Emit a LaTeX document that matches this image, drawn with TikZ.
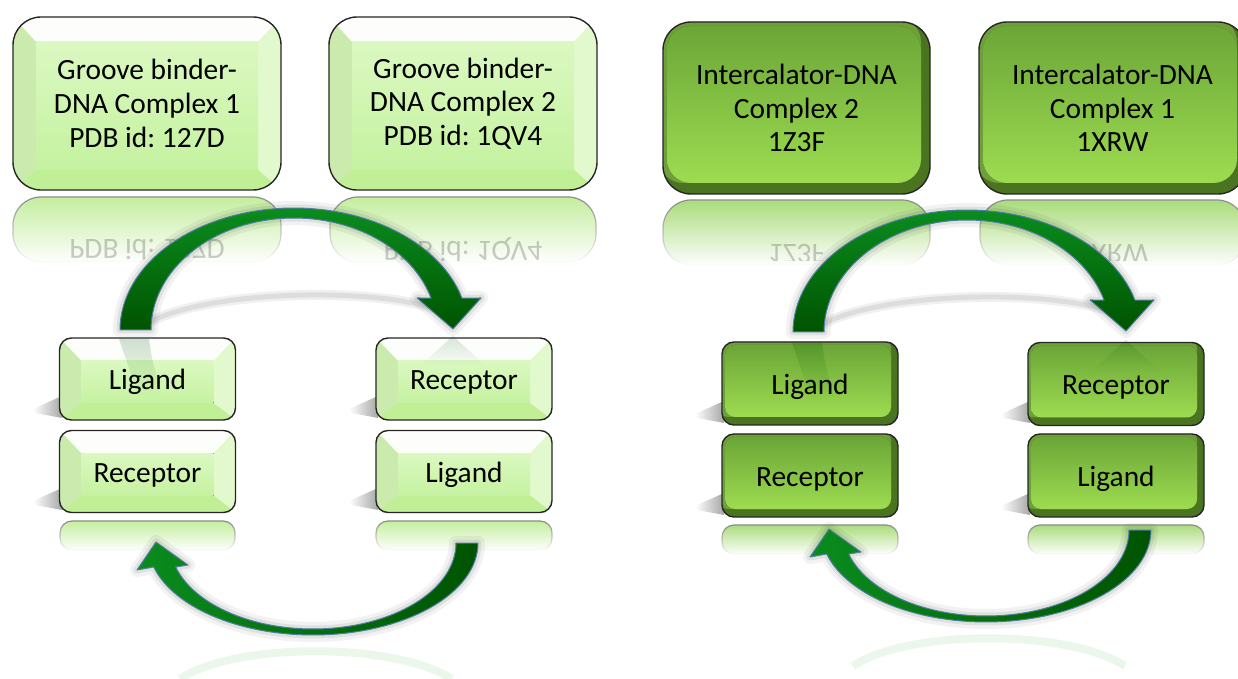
\documentclass[tikz,border=0pt]{standalone}
\usepackage{fontspec}
\setmainfont{Carlito}
\usetikzlibrary{fadings,calc}
\frenchspacing

\definecolor{lgTop}{HTML}{F0FDE4}
\definecolor{lgBot}{HTML}{C2F09A}
\definecolor{lgInTop}{HTML}{DBF8C1}
\definecolor{lgInBot}{HTML}{C5F2A0}
\definecolor{lgLeft}{HTML}{CBEBAE}
\definecolor{lgRight}{HTML}{E2F9CE}
\definecolor{lgBottom}{HTML}{C0EF96}
\definecolor{dgRim}{HTML}{4A7420}
\definecolor{dgRimL}{HTML}{6F9F3B}
\definecolor{dgTop}{HTML}{6BA637}
\definecolor{dgBot}{HTML}{9DDC51}
\definecolor{arTop}{HTML}{0A8C1E}
\definecolor{arBot}{HTML}{005300}
\definecolor{arEdge}{HTML}{4F7FA0}
\definecolor{reflL}{HTML}{C4EE9E}
\definecolor{reflD}{HTML}{A9DC7A}

\newcommand\lightbevel[3]{%
  \path (path picture bounding box.north west) coordinate (pNW)
        (path picture bounding box.south east) coordinate (pSE);
  \path (pNW |- pSE) coordinate (pSW) (pSE |- pNW) coordinate (pNE);
  \path (pNW) ++(#1,-#2) coordinate (iNW);
  \path (pSE) ++(-#1,#3) coordinate (iSE);
  \path (iNW |- iSE) coordinate (iSW) (iSE |- iNW) coordinate (iNE);
  \fill[sharp corners, white, opacity=0.9] (pNW) -- (pNE) -- (iNE) -- (iNW) -- cycle;
  \fill[sharp corners, lgLeft] (pNW) -- (iNW) -- (iSW) -- (pSW) -- cycle;
  \fill[sharp corners, lgRight] (pNE) -- (iNE) -- (iSE) -- (pSE) -- cycle;
  \fill[sharp corners, lgBottom] (pSW) -- (iSW) -- (iSE) -- (pSE) -- cycle;
  \fill[sharp corners, top color=lgInTop, bottom color=lgInBot] (iNW) rectangle (iSE);
}
\newcommand\darkbevel[5]{%
  \path (path picture bounding box.north west) coordinate (pNW)
        (path picture bounding box.south east) coordinate (pSE);
  \fill[rounded corners=#5, dgRimL] ($(pNW)+(-2pt,2pt)$) rectangle ($(pSE)+(-#3,#4)$);
  \fill[rounded corners=#5, top color=dgTop, bottom color=dgBot]
      ($(pNW)+(#1,-#2)$) rectangle ($(pSE)+(-#3,#4)$);
}
\newcommand\reflbox[6]{%
  \path[draw=black!45, line width=0.6pt, fill=#6, rounded corners=#5, path fading=south]
     (#1,#4) rectangle (#2,#3);
}
\newcommand\smear[2]{%
  \fill[black, opacity=0.35, path fading=west]
     (#1+2,#2-24) -- (#1-27,#2-11) -- (#1-25,#2-7) -- (#1+2,#2-2) -- cycle;
}
\newcommand\drawarrow[2]{%
  \path[draw=black, line width=7pt, opacity=0.05, line join=round] #1;
  \path[draw=black, line width=3.5pt, opacity=0.07, line join=round] #1;
  \path[#2, draw=arEdge, line width=0.5pt, line join=round] #1;
}

\def\arrowTL{plot[domain=180:15.2,samples=60] ({294+174*cos(\x)},{330-122*sin(\x)})
  -- (481,298) -- (453,329) -- (417,298)
  -- plot[domain=16.6:180,samples=60] ({294+143*cos(\x)},{330-112*sin(\x)}) -- cycle}
\def\arrowBL{plot[domain=0:164.9,samples=60] ({313+165*cos(\x)},{543+92*sin(\x)})
  -- (137,570) -- (156,542) -- (188,565)
  -- plot[domain=163.8:0,samples=60] ({313+143*cos(\x)},{543+86*sin(\x)}) -- cycle}

\tikzset{
  every node/.style={font=\fontsize{14.7pt}{16.8pt}\selectfont, align=center, text=black},
  boxbase/.style={draw=black!85, line width=0.7pt, inner sep=0pt},
  lightbig/.style={boxbase, rounded corners=14pt, minimum width=134pt, minimum height=86.5pt,
     top color=lgTop, bottom color=lgBot, path picture={\lightbevel{11.5pt}{12.5pt}{10pt}}},
  lightsmall/.style={boxbase, rounded corners=6pt, minimum width=88pt, minimum height=41pt,
     text height=13.6pt, text depth=3pt,
     top color=lgTop, bottom color=lgBot, path picture={\lightbevel{11pt}{11.5pt}{8.5pt}}},
  darkbig/.style={boxbase, rounded corners=14pt, minimum width=133.5pt, minimum height=86pt,
     fill=dgRim, path picture={\darkbevel{2pt}{2pt}{4.5pt}{5.5pt}{12pt}}},
  darksmall/.style={boxbase, rounded corners=6pt, minimum width=88pt, minimum height=41.5pt,
     text height=13.6pt, text depth=3pt,
     fill=dgRim, path picture={\darkbevel{1.5pt}{1.5pt}{3.5pt}{4pt}{5pt}}},
  mirtext/.style={text=black, text opacity=0.2},
}

\begin{document}
\begin{tikzpicture}[x=0.5pt,y=-0.5pt]
\useasboundingbox (0,0) rectangle (1238,679);
\fill[white] (0,0) rectangle (1238,679);

% reflections of the big boxes
\reflbox{13}{281}{197}{262}{14pt}{reflL}
\reflbox{330}{596}{197}{262}{14pt}{reflL}
\reflbox{663}{930}{200}{265}{14pt}{reflD}
\reflbox{980}{1245}{200}{265}{14pt}{reflD}
\begin{scope}
  \clip (0,197) rectangle (1238,261);
  \node[mirtext] (m1) at (147,250) {\scalebox{1}[-1]{PDB id: 127D}};
  \node[mirtext] (m2) at (463,250) {\scalebox{1}[-1]{PDB id: 1QV4}};
  \node[mirtext] (m3) at (796.5,254) {\scalebox{1}[-1]{1Z3F}};
  \node[mirtext] (m4) at (1112.5,254) {\scalebox{1}[-1]{1XRW}};
\end{scope}

% cast shadows of the small boxes
\smear{60}{420}\smear{60}{512}\smear{376}{420}\smear{376}{512}
\smear{722}{425}\smear{722}{517}\smear{1028}{425}\smear{1028}{517}

% cast shadows of the upper arrows
\draw[black, opacity=0.06, line width=5pt, line cap=round] (150,322) .. controls (210,290) and (380,286) .. (445,312);
\draw[black, opacity=0.08, line width=2.5pt, line cap=round] (150,322) .. controls (210,290) and (380,286) .. (445,312);
\begin{scope}[shift={(673,2)}]
\draw[black, opacity=0.06, line width=5pt, line cap=round] (150,322) .. controls (210,290) and (380,286) .. (445,312);
\draw[black, opacity=0.08, line width=2.5pt, line cap=round] (150,322) .. controls (210,290) and (380,286) .. (445,312);
\end{scope}

% big boxes
\node[lightbig] (g1) at (147,103.5) {Groove binder-\\DNA Complex 1\\PDB id: 127D};
\node[lightbig] (g2) at (463,103.5) {Groove binder-\\DNA Complex 2\\PDB id: 1QV4};
\node[darkbig] (i2) at (796.5,108) {Intercalator-DNA\\Complex 2\\1Z3F};
\node[darkbig] (i1) at (1112.5,108) {Intercalator-DNA\\Complex 1\\1XRW};

% small boxes
\node[lightsmall] (la) at (147.5,379) {Ligand};
\node[lightsmall] (lb) at (147.5,471.5) {Receptor};
\node[lightsmall] (lc) at (464,379) {Receptor};
\node[lightsmall] (ld) at (464,471.5) {Ligand};
\node[darksmall] (da) at (810,383.5) {Ligand};
\node[darksmall] (db) at (810,475.5) {Receptor};
\node[darksmall] (dc) at (1116,384) {Receptor};
\node[darksmall] (dd) at (1116,475.5) {Ligand};

% reflections under the lower small boxes
\reflbox{60}{235}{521}{550}{6pt}{reflL}
\reflbox{376}{552}{521}{550}{6pt}{reflL}
\reflbox{722}{898}{525}{554}{6pt}{reflD}
\reflbox{1028}{1204}{525}{554}{6pt}{reflD}

% faint reflections of the upper arrows on the small boxes
\fill[green!35!black, opacity=0.18, path fading=south] (119,339) -- (149,339) .. controls (152,360) .. (162,395) -- (138,395) .. controls (128,365) .. (119,339) -- cycle;
\fill[green!35!black, opacity=0.15, path fading=south] (453,336) -- (486,366) -- (420,366) -- cycle;
\begin{scope}[shift={(673,4)}]
\fill[green!35!black, opacity=0.18, path fading=south] (119,339) -- (149,339) .. controls (152,360) .. (162,395) -- (138,395) .. controls (128,365) .. (119,339) -- cycle;
\fill[green!35!black, opacity=0.15, path fading=south] (453,336) -- (486,366) -- (420,366) -- cycle;
\end{scope}

% arrows
\drawarrow{\arrowTL}{top color=arTop, bottom color=arBot}
\drawarrow{\arrowBL}{left color=arTop, right color=arBot}
\begin{scope}[shift={(673,2)}]
\drawarrow{\arrowTL}{top color=arTop, bottom color=arBot}
\end{scope}
\begin{scope}[shift={(673,-13)}]
\drawarrow{\arrowBL}{left color=arTop, right color=arBot}
\end{scope}

% reflections of the lower arrows
\draw[green!40!gray, opacity=0.1, line width=4pt] (180,679) .. controls (235,642) and (395,642) .. (452,679);
\begin{scope}[shift={(673,-13)}]
\draw[green!40!gray, opacity=0.1, line width=4pt] (180,679) .. controls (235,642) and (395,642) .. (452,679);
\end{scope}
\end{tikzpicture}
\end{document}
